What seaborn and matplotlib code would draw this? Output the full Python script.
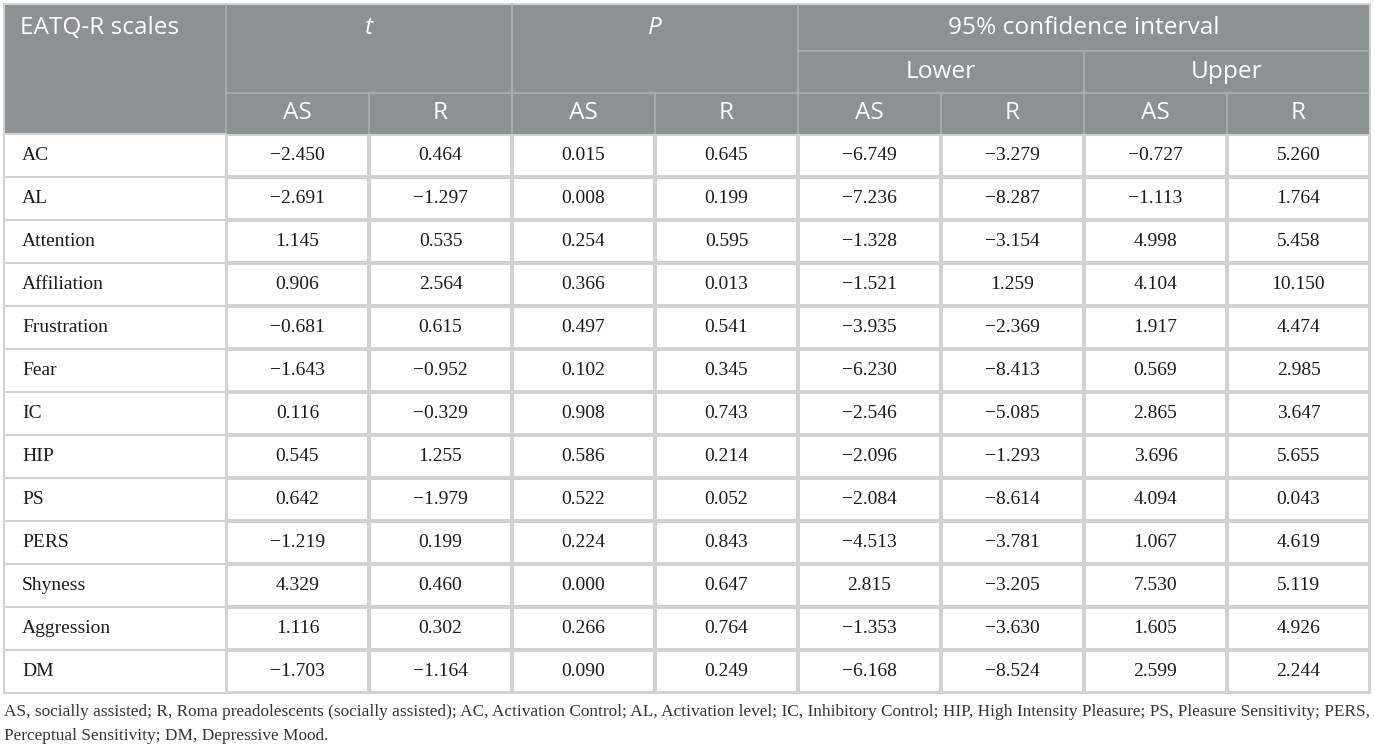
import matplotlib
matplotlib.use("Agg")
import matplotlib.pyplot as plt
import numpy as np
import seaborn as sns
from matplotlib.colors import ListedColormap

scales = ["AC", "AL", "Attention", "Affiliation", "Frustration", "Fear", "IC",
          "HIP", "PS", "PERS", "Shyness", "Aggression", "DM"]
t_as = [-2.450, -2.691, 1.145, 0.906, -0.681, -1.643, 0.116, 0.545, 0.642, -1.219, 4.329, 1.116, -1.703]
t_r = [0.464, -1.297, 0.535, 2.564, 0.615, -0.952, -0.329, 1.255, -1.979, 0.199, 0.460, 0.302, -1.164]
p_as = [0.015, 0.008, 0.254, 0.366, 0.497, 0.102, 0.908, 0.586, 0.522, 0.224, 0.000, 0.266, 0.090]
p_r = [0.645, 0.199, 0.595, 0.013, 0.541, 0.345, 0.743, 0.214, 0.052, 0.843, 0.647, 0.764, 0.249]
low_as = [-6.749, -7.236, -1.328, -1.521, -3.935, -6.230, -2.546, -2.096, -2.084, -4.513, 2.815, -1.353, -6.168]
low_r = [-3.279, -8.287, -3.154, 1.259, -2.369, -8.413, -5.085, -1.293, -8.614, -3.781, -3.205, -3.630, -8.524]
up_as = [-0.727, -1.113, 4.998, 4.104, 1.917, 0.569, 2.865, 3.696, 4.094, 1.067, 7.530, 1.605, 2.599]
up_r = [5.260, 1.764, 5.458, 10.150, 4.474, 2.985, 3.647, 5.655, 0.043, 4.619, 5.119, 4.926, 2.244]

groups = ["t", "P", "95% confidence interval"]
ci_parts = ["Lower", "Upper"]
sub_cols = ["AS", "R"] * 4
footnote = ["AS, socially assisted; R, Roma preadolescents (socially assisted); AC, Activation Control; AL, Activation level; IC, Inhibitory Control; HIP, High Intensity Pleasure; PS, Pleasure Sensitivity; PERS,",
            "Perceptual Sensitivity; DM, Depressive Mood."]

vals = np.column_stack([t_as, t_r, p_as, p_r, low_as, low_r, up_as, up_r])
labels = np.vectorize(lambda v: f"{v:.3f}".replace("-", "\u2212"))(vals)

sns.set_theme(style="white")

W, H = 1375, 751
fig = plt.figure(figsize=(W / 100, H / 100), dpi=100)
ax = fig.add_axes([0, 0, 1, 1])
ax.set_xlim(0, W)
ax.set_ylim(H, 0)
ax.axis("off")

# layout (pixels)
x0, x1, cw = 4, 226, 143
x_end = x1 + 8 * cw
y0, y_ci, y_sub, y_body = 4, 51, 93, 134
y_bot = 693
rh = (y_bot - y_body) / len(scales)

hdr_bg = "#8c9194"
hdr_line = "#aeb1b3"
body_line = "#d2d2d2"
hfont = "Open Sans"
bfont = "Liberation Serif"

# header background
ax.add_patch(plt.Rectangle((x0, y0), x_end - x0, y_body - y0, color=hdr_bg, lw=0))
ax.plot([x0, x_end, x_end, x0, x0], [y0, y0, y_bot, y_bot, y0], color=body_line, lw=1.5)

# header lines
ax.vlines([x1, x1 + 2 * cw, x1 + 4 * cw], y0, y_body, color=hdr_line, lw=1.2)
ax.vlines([x1 + cw, x1 + 3 * cw, x1 + 5 * cw, x1 + 7 * cw], y_sub, y_body, color=hdr_line, lw=1.2)
ax.vlines([x1 + 6 * cw], y_ci, y_body, color=hdr_line, lw=1.2)
ax.hlines(y_sub, x1, x_end, color=hdr_line, lw=1.2)
ax.hlines(y_ci, x1 + 4 * cw, x_end, color=hdr_line, lw=1.2)

hk = dict(color="white", family=hfont, fontsize=17.6, va="center")
ax.text(20, 28, "EATQ-R scales", ha="left", **hk)
ax.text(x1 + cw, 28, groups[0], ha="center", style="italic", **hk)
ax.text(x1 + 3 * cw, 28, groups[1], ha="center", style="italic", **hk)
ax.text(x1 + 6 * cw, 28, groups[2], ha="center", **hk)
for i, name in enumerate(ci_parts):
    ax.text(x1 + (5 + 2 * i) * cw, 72, name, ha="center", **hk)
for i, name in enumerate(sub_cols):
    ax.text(x1 + (i + 0.5) * cw, 113, name, ha="center", **hk)

# first column of body
ys = y_body + rh * np.arange(len(scales) + 1)
ax.hlines(ys, x0, x1, color=body_line, lw=1.5)
ax.vlines([x0, x1], y_body, y_bot, color=body_line, lw=1.5)
for i, s in enumerate(scales):
    ax.text(22, y_body + (i + 0.5) * rh, s, ha="left", va="center",
            family=bfont, fontsize=14, color="#1a1a1a")

# numeric body as heatmap
hax = fig.add_axes([x1 / W, 1 - y_bot / H, (x_end - x1) / W, (y_bot - y_body) / H])
sns.heatmap(vals, ax=hax, cmap=ListedColormap(["white"]), cbar=False,
            annot=labels, fmt="", linewidths=1.5, linecolor=body_line,
            xticklabels=False, yticklabels=False,
            annot_kws=dict(family=bfont, fontsize=14, color="#1a1a1a"))

# footnote
for i, line in enumerate(footnote):
    ax.text(x0, 712 + i * 24, line, ha="left", va="center",
            family=bfont, fontsize=12.45, color="#333333")

fig.savefig("out.png", dpi=100)
